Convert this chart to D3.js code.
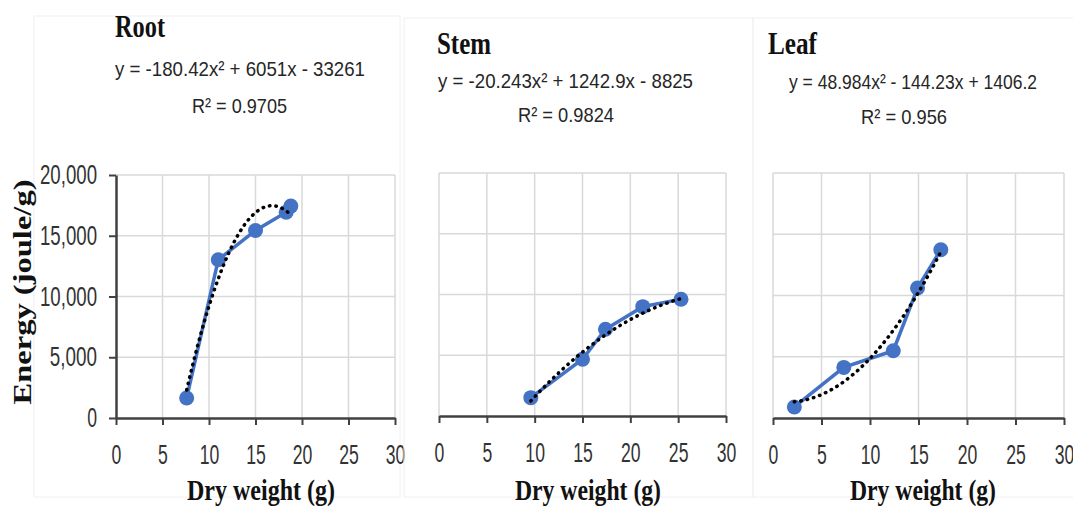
<!DOCTYPE html>
<html>
<head>
<meta charset="utf-8">
<script src="https://cdn.jsdelivr.net/npm/d3@7"></script>
<style>
  body { margin: 0; background: #fff; }
  svg { display: block; }
</style>
</head>
<body>
<svg width="1073" height="506"></svg>
<script>
// data
var rootX = [7.6, 11.0, 15.0, 18.3, 18.8];
var rootY = [1650, 13030, 15430, 16940, 17440];
var stemX = [9.6, 15.0, 17.4, 21.3, 25.3];
var stemY = [1510, 4670, 7140, 9000, 9610];
var leafX = [2.2, 7.3, 12.4, 14.9, 17.3];
var leafY = [900, 4130, 5490, 10610, 13740];

// trendline coefficients (a x^2 + b x + c), as printed on the chart
var rootFit = [-180.42, 6051, -33261];
var stemFit = [-20.243, 1242.9, -8825];
var leafFit = [48.984, -144.23, 1406.2];

var panelTitles = ['Root', 'Stem', 'Leaf'];
var equations = ['y = -180.42x² + 6051x - 33261', 'y = -20.243x² + 1242.9x - 8825', 'y = 48.984x² - 144.23x + 1406.2'];
var r2Text = ['R² = 0.9705', 'R² = 0.9824', 'R² = 0.956'];

var xTicks = [0, 5, 10, 15, 20, 25, 30];
var yTicks = [0, 5000, 10000, 15000, 20000];

var blue = '#4472C4';
var sans = '"Liberation Sans", Arial, sans-serif';
var serif = '"Liberation Serif", "DejaVu Serif", serif';

var svg = d3.select('svg');

// squeeze tick labels to a narrow, tall look
function narrowTicks(sel) {
  sel.attr('font-family', sans).attr('font-size', 27).attr('fill', '#333')
    .attr('lengthAdjust', 'spacingAndGlyphs')
    .attr('textLength', function() {
      var t = this.textContent;
      var commas = (t.match(/,/g) || []).length;
      return (t.length - commas) * 9.8 + commas * 8;
    });
}

// layout per panel
var panels = [
  {x: rootX, y: rootY, fit: rootFit, xr: [116, 395], yr: [418, 175], box: [34, 16, 366, 481], yAxis: true,
   title: [115, 37, 50], eq: [115, 76, 250], r2: [192, 113, 95], xlab: [261, 500, 148]},
  {x: stemX, y: stemY, fit: stemFit, xr: [439, 726], yr: [416, 173], box: [404, 18, 349, 479], yAxis: false,
   title: [437, 54, 54], eq: [438, 88, 255], r2: [518, 122, 96], xlab: [588, 500, 146]},
  {x: leafX, y: leafY, fit: leafFit, xr: [773, 1064], yr: [418, 173], box: [753, 18, 330, 479], yAxis: false,
   title: [768, 54, 49], eq: [789, 89, 248], r2: [861, 124, 86], xlab: [923, 500, 146]}
];

panels.forEach(function(p, i) {
  var g = svg.append('g');

  g.append('rect')
    .attr('x', p.box[0]).attr('y', p.box[1])
    .attr('width', p.box[2]).attr('height', p.box[3])
    .attr('fill', 'none')
    .attr('stroke', '#f0f0f0');

  var x = d3.scaleLinear().domain([0, 30]).range(p.xr);
  var y = d3.scaleLinear().domain([0, 20000]).range(p.yr);

  // grid
  g.append('g').selectAll('line.h')
    .data(yTicks.slice(1))
    .enter().append('line')
    .attr('x1', p.xr[0]).attr('x2', p.xr[1])
    .attr('y1', d => y(d)).attr('y2', d => y(d))
    .attr('stroke', '#d9d9d9').attr('stroke-width', 1.5);
  g.append('g').selectAll('line.v')
    .data(p.yAxis ? xTicks.slice(1) : xTicks)
    .enter().append('line')
    .attr('x1', d => x(d)).attr('x2', d => x(d))
    .attr('y1', p.yr[1]).attr('y2', p.yr[0])
    .attr('stroke', '#d9d9d9').attr('stroke-width', 1.5);

  // x axis
  var xAxis = d3.axisBottom(x).tickValues(xTicks).tickSize(7).tickSizeOuter(0).tickPadding(20);
  var xg = g.append('g')
    .attr('transform', `translate(0, ${p.yr[0]})`)
    .call(xAxis);
  xg.select('.domain').attr('stroke', '#404040').attr('stroke-width', 2.5);
  xg.selectAll('.tick line').attr('stroke', '#404040').attr('stroke-width', 2);
  xg.selectAll('.tick text').call(narrowTicks);

  if (p.yAxis) {
    var yAxis = d3.axisLeft(y).tickValues(yTicks).tickSize(7).tickSizeOuter(0).tickPadding(12)
      .tickFormat(d3.format(','));
    var yg = g.append('g')
      .attr('transform', `translate(${p.xr[0]}, 0)`)
      .call(yAxis);
    yg.select('.domain').attr('stroke', '#404040').attr('stroke-width', 2.5);
    yg.selectAll('.tick line').attr('stroke', '#404040').attr('stroke-width', 2);
    yg.selectAll('.tick text').call(narrowTicks);
  }

  var pts = p.x.map((v, k) => ({x: v, y: p.y[k]}));

  // series line + markers
  var line = d3.line().x(d => x(d.x)).y(d => y(d.y));
  g.append('path')
    .attr('d', line(pts))
    .attr('fill', 'none')
    .attr('stroke', blue)
    .attr('stroke-width', 3.5);
  g.selectAll('circle')
    .data(pts)
    .enter().append('circle')
    .attr('cx', d => x(d.x)).attr('cy', d => y(d.y))
    .attr('r', 7.5)
    .attr('fill', blue);

  // polynomial trendline from printed coefficients
  var x0 = d3.min(p.x), x1 = d3.max(p.x);
  var trend = d3.range(0, 41).map(k => {
    var xv = x0 + (x1 - x0) * k / 40;
    return {x: xv, y: p.fit[0] * xv * xv + p.fit[1] * xv + p.fit[2]};
  });
  g.append('path')
    .attr('d', line(trend))
    .attr('fill', 'none')
    .attr('stroke', '#000')
    .attr('stroke-width', 3.5)
    .attr('stroke-linecap', 'round')
    .attr('stroke-dasharray', '0.5 6');

  // title
  g.append('text')
    .attr('x', p.title[0]).attr('y', p.title[1])
    .attr('textLength', p.title[2]).attr('lengthAdjust', 'spacingAndGlyphs')
    .attr('font-family', serif).attr('font-weight', 'bold').attr('font-size', 31)
    .attr('fill', '#111')
    .text(panelTitles[i]);

  // equation and R²
  g.append('text')
    .attr('x', p.eq[0]).attr('y', p.eq[1])
    .attr('textLength', p.eq[2]).attr('lengthAdjust', 'spacingAndGlyphs')
    .attr('font-family', sans).attr('font-size', 21).attr('fill', '#262626')
    .text(equations[i]);
  g.append('text')
    .attr('x', p.r2[0]).attr('y', p.r2[1])
    .attr('textLength', p.r2[2]).attr('lengthAdjust', 'spacingAndGlyphs')
    .attr('font-family', sans).attr('font-size', 21).attr('fill', '#262626')
    .text(r2Text[i]);

  // x axis title
  g.append('text')
    .attr('x', p.xlab[0]).attr('y', p.xlab[1])
    .attr('text-anchor', 'middle')
    .attr('textLength', p.xlab[2]).attr('lengthAdjust', 'spacingAndGlyphs')
    .attr('font-family', serif).attr('font-weight', 'bold').attr('font-size', 29)
    .attr('fill', '#111')
    .text('Dry weight (g)');
});

// y axis title
svg.append('text')
  .attr('transform', 'translate(31, 292) rotate(-90)')
  .attr('text-anchor', 'middle')
  .attr('textLength', 225).attr('lengthAdjust', 'spacingAndGlyphs')
  .attr('font-family', serif).attr('font-weight', 'bold').attr('font-size', 26)
  .attr('fill', '#111')
  .text('Energy (joule/g)');
</script>
</body>
</html>
